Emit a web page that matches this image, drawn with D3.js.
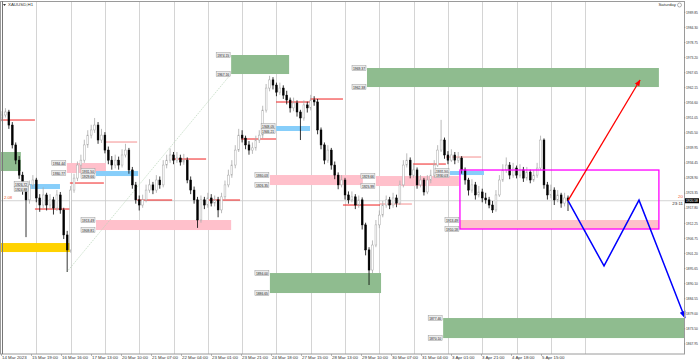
<!DOCTYPE html>
<html>
<head>
<meta charset="utf-8">
<script src="https://cdnjs.cloudflare.com/ajax/libs/d3/7.8.5/d3.min.js"></script>
<style>
    body { margin: 0; background: #fff; }
    svg { display: block; font-family: "Liberation Sans", Arial, sans-serif; }
</style>
</head>
<body>
<div id="chart"></div>
<script>
// XAUUSD H1 bars (bar index 0 = left edge)
var firstOpen = 1951.0;
var closes = [
    1952.1,1953.2,1948.4,1941.1,1935.5,1930.0,1924.5,1920.9,1926.4,1928.2,
    1921.6,1919.0,1922.7,1919.0,1920.9,1917.9,1922.7,1917.2,1908.0,1902.5,
    1924.5,1928.9,1933.7,1935.5,1941.1,1944.7,1946.6,1948.4,1942.9,1944.7,
    1939.2,1935.5,1933.7,1935.5,1933.7,1937.4,1939.2,1931.9,1926.4,1920.9,
    1919.0,1920.9,1924.5,1926.4,1924.5,1928.2,1926.4,1933.7,1935.5,1937.4,
    1935.5,1936.3,1934.8,1935.5,1928.2,1924.5,1920.9,1913.5,1920.9,1919.0,
    1921.6,1919.7,1920.9,1917.2,1922.0,1926.4,1930.0,1933.7,1939.2,1944.7,
    1943.6,1941.1,1939.2,1940.0,1942.9,1944.7,1953.9,1962.0,1965.0,1963.1,
    1960.5,1962.0,1959.4,1957.6,1954.7,1956.5,1953.2,1951.0,1955.8,1954.7,
    1957.6,1956.9,1946.6,1941.1,1935.5,1939.2,1933.7,1930.0,1926.4,1928.2,
    1922.7,1920.9,1922.0,1919.0,1920.9,1911.7,1902.5,1895.1,1904.3,1911.7,
    1915.3,1919.0,1920.9,1919.0,1921.6,1919.7,1926.4,1933.7,1935.5,1930.0,
    1931.9,1926.4,1928.2,1923.8,1928.2,1930.0,1933.7,1939.2,1942.9,1937.4,
    1935.5,1937.4,1935.5,1936.3,1931.9,1928.2,1924.5,1926.4,1922.7,1923.8,
    1921.6,1920.9,1919.0,1917.2,1922.7,1928.2,1931.9,1933.7,1930.0,1932.6,
    1930.0,1931.9,1928.9,1931.1,1928.2,1930.0,1932.6,1942.9,1926.4,1922.7,
    1924.5,1920.9,1922.7,1919.7,1921.6,1920.6
];
var highs = [
    1953.5,1954.6,1954.0,1949.5,1942.0,1937.0,1931.2,1926.0,1928.0,1930.0,
    1929.0,1923.0,1925.5,1923.5,1923.0,1922.0,1924.5,1923.8,1918.0,1909.5,
    1926.0,1930.5,1935.0,1937.5,1943.0,1946.5,1948.5,1951.0,1949.5,1947.0,
    1945.8,1940.5,1937.0,1937.5,1936.8,1939.5,1941.5,1940.0,1933.0,1927.5,
    1922.5,1922.8,1926.5,1928.5,1927.5,1930.0,1929.5,1935.5,1937.5,1939.8,
    1938.5,1938.5,1937.5,1937.8,1936.5,1929.5,1925.8,1922.0,1922.5,1922.0,
    1923.5,1923.0,1922.5,1922.0,1923.5,1928.0,1932.0,1935.5,1941.0,1947.0,
    1946.5,1944.5,1942.5,1942.0,1944.5,1946.5,1955.5,1963.5,1966.5,1966.0,
    1964.0,1964.0,1963.0,1961.0,1958.5,1958.5,1957.5,1954.0,1957.5,1957.0,
    1959.5,1959.0,1958.0,1947.5,1942.0,1941.0,1940.0,1935.0,1931.0,1930.0,
    1929.0,1924.0,1924.0,1923.0,1922.5,1921.8,1912.5,1903.5,1906.0,1913.5,
    1917.0,1920.5,1922.5,1922.0,1923.5,1922.8,1928.0,1935.5,1938.0,1936.5,
    1934.0,1932.8,1930.0,1929.0,1930.0,1932.0,1935.5,1941.0,1950.3,1943.8,
    1938.8,1939.5,1938.5,1938.5,1937.0,1932.8,1929.0,1928.5,1927.5,1926.0,
    1925.0,1923.5,1922.0,1920.5,1924.5,1930.0,1934.0,1936.5,1934.8,1934.5,
    1933.5,1934.0,1933.0,1933.0,1932.0,1931.8,1934.5,1944.5,1943.5,1927.5,
    1926.5,1925.5,1924.5,1923.5,1923.5,1922.5
];
var lows = [
    1949.8,1951.2,1947.0,1939.8,1934.0,1928.6,1922.8,1907.2,1919.5,1925.0,
    1920.0,1916.5,1917.8,1917.0,1917.5,1915.5,1916.8,1915.8,1906.5,1894.4,
    1901.5,1923.5,1927.8,1932.5,1934.5,1940.0,1943.5,1945.5,1941.5,1941.8,
    1938.0,1934.0,1932.0,1932.5,1932.0,1932.8,1936.5,1930.5,1925.0,1919.5,
    1917.0,1918.0,1920.0,1923.5,1923.0,1923.5,1925.0,1925.5,1932.5,1934.5,
    1934.0,1934.5,1933.5,1933.8,1927.0,1923.0,1919.5,1910.6,1912.5,1917.5,
    1918.0,1918.5,1918.5,1914.5,1916.0,1921.0,1925.5,1929.0,1932.5,1938.5,
    1942.0,1939.5,1937.5,1937.8,1939.0,1941.8,1943.5,1953.0,1960.8,1961.5,
    1959.0,1959.5,1958.0,1956.0,1953.0,1953.5,1951.5,1942.9,1950.0,1953.0,
    1953.8,1955.5,1945.0,1939.5,1934.0,1934.5,1932.0,1928.5,1924.8,1925.5,
    1921.0,1919.5,1920.0,1917.5,1918.0,1910.0,1900.5,1889.6,1894.0,1903.5,
    1910.5,1914.5,1918.0,1917.5,1918.0,1918.2,1919.0,1925.5,1932.8,1928.8,
    1929.0,1925.0,1925.5,1922.5,1923.0,1927.0,1929.0,1933.0,1938.5,1936.0,
    1934.0,1934.8,1934.0,1934.5,1930.5,1926.5,1922.5,1923.5,1921.0,1921.8,
    1920.0,1919.5,1917.8,1916.1,1916.5,1922.0,1927.5,1930.8,1928.5,1929.0,
    1928.8,1929.0,1927.5,1928.0,1927.0,1927.5,1929.0,1931.8,1925.0,1921.0,
    1921.5,1919.0,1920.0,1918.0,1918.5,1916.8
];

var timeLabels = ["14 Mar 2023", "15 Mar 19:00", "16 Mar 16:00", "17 Mar 13:00", "20 Mar 10:00",
    "21 Mar 07:00", "22 Mar 04:00", "23 Mar 01:00", "23 Mar 21:00", "24 Mar 18:00",
    "27 Mar 15:00", "28 Mar 13:00", "29 Mar 10:00", "30 Mar 07:00", "31 Mar 04:00",
    "3 Apr 01:00", "3 Apr 21:00", "4 Apr 18:00", "5 Apr 15:00"];
var gridBars = [0, 10, 20, 30, 40, 50, 60, 70, 80, 90, 100, 110, 120, 130, 140, 150, 160, 170];
var priceTicks = [1989.85, 1984.30, 1978.75, 1973.20, 1967.65, 1962.15, 1956.60, 1951.05, 1945.50,
    1939.95, 1934.45, 1928.90, 1923.35, 1917.80, 1912.25, 1906.75, 1901.20, 1895.65, 1890.10,
    1884.55, 1879.00, 1873.50, 1867.95];
var lastPrice = 1920.58;

// zones: [fromBar, toBar, top, bottom, kind, labelled]
var zones = [
    [-2, 5.5, 1938.49, 1931.50, "demand", false],
    [-2, 19.8, 1905.03, 1901.72, "gold", false],
    [7.9, 16.9, 1926.72, 1924.88, "blue", true],
    [18.9, 30.3, 1934.44, 1930.77, "pink", true],
    [27.4, 39.7, 1931.50, 1929.66, "blue", true],
    [27.4, 66.8, 1913.49, 1909.81, "pink", true],
    [66.8, 83.7, 1974.15, 1967.16, "demand", true],
    [79.9, 89.8, 1948.05, 1946.21, "blue", true],
    [78.1, 105.2, 1930.03, 1926.35, "pink", true],
    [109.0, 133.2, 1929.66, 1925.99, "pink", true],
    [106.4, 191.5, 1969.37, 1962.38, "demand", true],
    [78.1, 110.5, 1894.00, 1886.65, "demand", true],
    [128.6, 200, 1877.46, 1870.10, "demand", true],
    [133.5, 191.5, 1913.49, 1910.18, "pink", true],
    [130.6, 140.5, 1931.50, 1930.03, "blue", true]
];
var boxRange = [133.5, 191.5, 1931.87, 1910.18];

// short levels: [fromBar, toBar, price, kind]
var levels = [
    [-2, 9.6, 1950.25, "main"], [9.6, 19.8, 1917.53, "main"], [19.8, 29.7, 1927.09, "main"],
    [30.0, 39.4, 1942.16, "soft"], [39.4, 49.6, 1920.84, "main"], [49.6, 59.5, 1935.91, "main"],
    [59.8, 69.4, 1920.84, "main"], [69.7, 79.9, 1943.27, "main"], [79.9, 89.8, 1956.87, "main"],
    [89.8, 99.4, 1957.97, "main"], [99.4, 110.2, 1919.00, "main"], [110.2, 119.5, 1919.37, "soft"],
    [119.8, 129.4, 1934.07, "main"], [129.4, 139.7, 1936.65, "soft"]
];
var trendLine = [[18.9, 1894.4], [66.5, 1966.8]];
var bullPath = [[165, 1920.6], [186, 1964.96]];
var bearPath = [[165, 1920.6], [175.5, 1896.6], [185.7, 1920.8], [199.1, 1877.5]];

/* ****** Graph size ****** */
var width = 700;
var height = 362;
var plotRight = 684;
var plotBottom = 354;

var svg = d3.select("#chart")
    .append("svg")
    .attr("width", width)
    .attr("height", height);

svg.append("defs").append("clipPath").attr("id", "plot")
    .append("rect").attr("x", 0).attr("y", 1).attr("width", plotRight).attr("height", plotBottom - 1);

var defs = svg.select("defs");
[["headRed", "#ff0000"], ["headBlue", "#0000ff"]].forEach(function (m) {
    defs.append("marker")
        .attr("id", m[0])
        .attr("viewBox", "0 0 10 10")
        .attr("refX", 9).attr("refY", 5)
        .attr("markerWidth", 5).attr("markerHeight", 5)
        .attr("orient", "auto")
        .append("path").attr("d", "M0,1 L10,5 L0,9 z").attr("fill", m[1]);
});

/* ****** Scales ****** */
var x = d3.scaleLinear().domain([0, 165]).range([2, 568]);
var y = d3.scaleLinear().domain([1989.85, 1867.95]).range([12.3, 343.9]);
var xLabel = d3.scalePoint().domain(timeLabels).range([1, 541]);
var fmt = d3.format(".2f");

var g = svg.append("g").attr("clip-path", "url(#plot)");

// grid
g.selectAll(".grid").data(gridBars).enter().append("line")
    .attr("x1", function (d) { return Math.round(x(d)) + 0.5; })
    .attr("x2", function (d) { return Math.round(x(d)) + 0.5; })
    .attr("y1", 1).attr("y2", plotBottom)
    .attr("stroke", "#d4d4d4").attr("stroke-width", 1);

// current price line
g.append("line")
    .attr("x1", 0).attr("x2", plotRight)
    .attr("y1", y(lastPrice)).attr("y2", y(lastPrice))
    .attr("stroke", "#c8c8c8").attr("stroke-width", 0.8);

/* ****** Zones ****** */
var zoneColor = { demand: "#8fbc8f", gold: "#ffd200", blue: "#87cefa", pink: "#ffc0cb" };
g.selectAll(".zone").data(zones).enter().append("rect")
    .attr("x", function (d) { return x(d[0]); })
    .attr("width", function (d) { return x(d[1]) - x(d[0]); })
    .attr("y", function (d) { return y(d[2]); })
    .attr("height", function (d) { return y(d[3]) - y(d[2]); })
    .attr("fill", function (d) { return zoneColor[d[4]]; });

// trend line
g.append("line")
    .attr("x1", x(trendLine[0][0])).attr("y1", y(trendLine[0][1]))
    .attr("x2", x(trendLine[1][0])).attr("y2", y(trendLine[1][1]))
    .attr("stroke", "#b9d6b9").attr("stroke-width", 0.7)
    .attr("stroke-dasharray", "1.5,1");

// levels
g.selectAll(".level").data(levels).enter().append("line")
    .attr("x1", function (d) { return x(d[0]); })
    .attr("x2", function (d) { return x(d[1]); })
    .attr("y1", function (d) { return y(d[2]); })
    .attr("y2", function (d) { return y(d[2]); })
    .attr("stroke", function (d) { return d[3] == "main" ? "#f02020" : "#f49090"; })
    .attr("stroke-width", 1);

/* ****** Candles ****** */
var bars = closes.map(function (c, i) {
    return { i: i, o: i == 0 ? firstOpen : closes[i - 1], h: highs[i], l: lows[i], c: c };
});
var candle = g.selectAll(".candle").data(bars).enter().append("g");
candle.append("line")
    .attr("x1", function (d) { return x(d.i); })
    .attr("x2", function (d) { return x(d.i); })
    .attr("y1", function (d) { return y(d.h); })
    .attr("y2", function (d) { return y(d.l); })
    .attr("stroke", function (d) { return d.c >= d.o ? "#a9a9a9" : "#000"; })
    .attr("stroke-width", 0.8);
candle.append("rect")
    .attr("x", function (d) { return x(d.i) - 0.9; })
    .attr("width", 1.8)
    .attr("y", function (d) { return y(Math.max(d.o, d.c)); })
    .attr("height", function (d) { return Math.max(0.6, Math.abs(y(d.o) - y(d.c))); })
    .attr("fill", function (d) { return d.c >= d.o ? "#fff" : "#000"; })
    .attr("stroke", function (d) { return d.c >= d.o ? "#a9a9a9" : "#000"; })
    .attr("stroke-width", 0.5);

// range box
g.append("rect")
    .attr("x", x(boxRange[0])).attr("y", y(boxRange[2]))
    .attr("width", x(boxRange[1]) - x(boxRange[0]))
    .attr("height", y(boxRange[3]) - y(boxRange[2]))
    .attr("fill", "none").attr("stroke", "#ff00ff").attr("stroke-width", 1.3);

/* ****** Scenario arrows ****** */
var line = d3.line().x(function (d) { return x(d[0]); }).y(function (d) { return y(d[1]); });
svg.append("path").attr("d", line(bullPath))
    .attr("fill", "none").attr("stroke", "#ff0000").attr("stroke-width", 1.3)
    .attr("marker-end", "url(#headRed)");
svg.append("path").attr("d", line(bearPath))
    .attr("fill", "none").attr("stroke", "#0000ff").attr("stroke-width", 1.5)
    .attr("marker-end", "url(#headBlue)");

/* ****** Zone price tags ****** */
var tags = [];
zones.forEach(function (z) {
    if (z[5]) { tags.push([z[0], z[2]]); tags.push([z[0], z[3]]); }
});
var tag = svg.selectAll(".tag").data(tags).enter().append("g")
    .attr("transform", function (d) { return "translate(" + (x(d[0]) - 15) + "," + y(d[1]) + ")"; });
tag.append("rect").attr("x", 0).attr("y", -2.6).attr("width", 14).attr("height", 5.2)
    .attr("fill", "#ececec").attr("stroke", "#8a8a8a").attr("stroke-width", 0.4);
tag.append("text").attr("x", 1).attr("y", 1.6)
    .attr("font-size", 4.4).attr("fill", "#222")
    .attr("textLength", 12).attr("lengthAdjust", "spacingAndGlyphs")
    .text(function (d) { return fmt(d[1]); });

/* ****** Frame and axes ****** */
svg.append("rect").attr("x", 0.5).attr("y", 1.5).attr("width", plotRight).attr("height", plotBottom - 1.5)
    .attr("fill", "none").attr("stroke", "#9a9a9a").attr("stroke-width", 1);
svg.append("line").attr("x1", 2.5).attr("x2", 2.5).attr("y1", 1).attr("y2", plotBottom)
    .attr("stroke", "#777").attr("stroke-width", 1);

var yAxis = svg.append("g");
yAxis.selectAll("text").data(priceTicks).enter().append("text")
    .attr("x", 686).attr("y", function (d) { return y(d) + 1.2; })
    .attr("font-size", 3.3).attr("fill", "#333")
    .text(function (d) { return fmt(d); });
yAxis.selectAll("line").data(priceTicks).enter().append("line")
    .attr("x1", plotRight).attr("x2", plotRight + 1.5)
    .attr("y1", function (d) { return y(d); }).attr("y2", function (d) { return y(d); })
    .attr("stroke", "#777").attr("stroke-width", 0.5);

// last price tag
svg.append("rect").attr("x", 685).attr("y", y(lastPrice) - 2.5).attr("width", 14).attr("height", 5).attr("fill", "#000");
svg.append("text").attr("x", 686).attr("y", y(lastPrice) + 1.2).attr("font-size", 3.3).attr("fill", "#fff")
    .text(fmt(lastPrice));
svg.append("text").attr("x", 683).attr("y", y(lastPrice) + 3.8).attr("text-anchor", "end")
    .attr("font-size", 4.4).attr("fill", "#222").text("23:11");
svg.append("text").attr("x", 683).attr("y", y(lastPrice) - 2.6).attr("text-anchor", "end")
    .attr("font-size", 4.4).attr("fill", "#f06030").text("20");
svg.append("text").attr("x", 4).attr("y", y(lastPrice) - 2.2)
    .attr("font-size", 4.2).attr("fill", "#f06030").text("2.08");

var xAxis = svg.append("g");
xAxis.selectAll("text").data(timeLabels).enter().append("text")
    .attr("x", function (d) { return xLabel(d) + 1; }).attr("y", 359.3)
    .attr("font-size", 4.4).attr("fill", "#333")
    .text(function (d) { return d; });
xAxis.selectAll("line").data(timeLabels).enter().append("line")
    .attr("x1", function (d) { return xLabel(d) + 0.5; }).attr("x2", function (d) { return xLabel(d) + 0.5; })
    .attr("y1", plotBottom).attr("y2", plotBottom + 2)
    .attr("stroke", "#777").attr("stroke-width", 0.5);

// titles
svg.append("path").attr("d", "M3,4 L6,4 L4.5,6 z").attr("fill", "#333");
svg.append("text").attr("x", 8).attr("y", 6.4).attr("font-size", 4.4).attr("fill", "#333").text("XAUUSD,H1");
svg.append("text").attr("x", 676).attr("y", 6.4).attr("text-anchor", "end")
    .attr("font-size", 4.4).attr("fill", "#333").text("Saturday");
svg.append("circle").attr("cx", 679.5).attr("cy", 5).attr("r", 2).attr("fill", "none").attr("stroke", "#666").attr("stroke-width", 0.5);
</script>
</body>
</html>
